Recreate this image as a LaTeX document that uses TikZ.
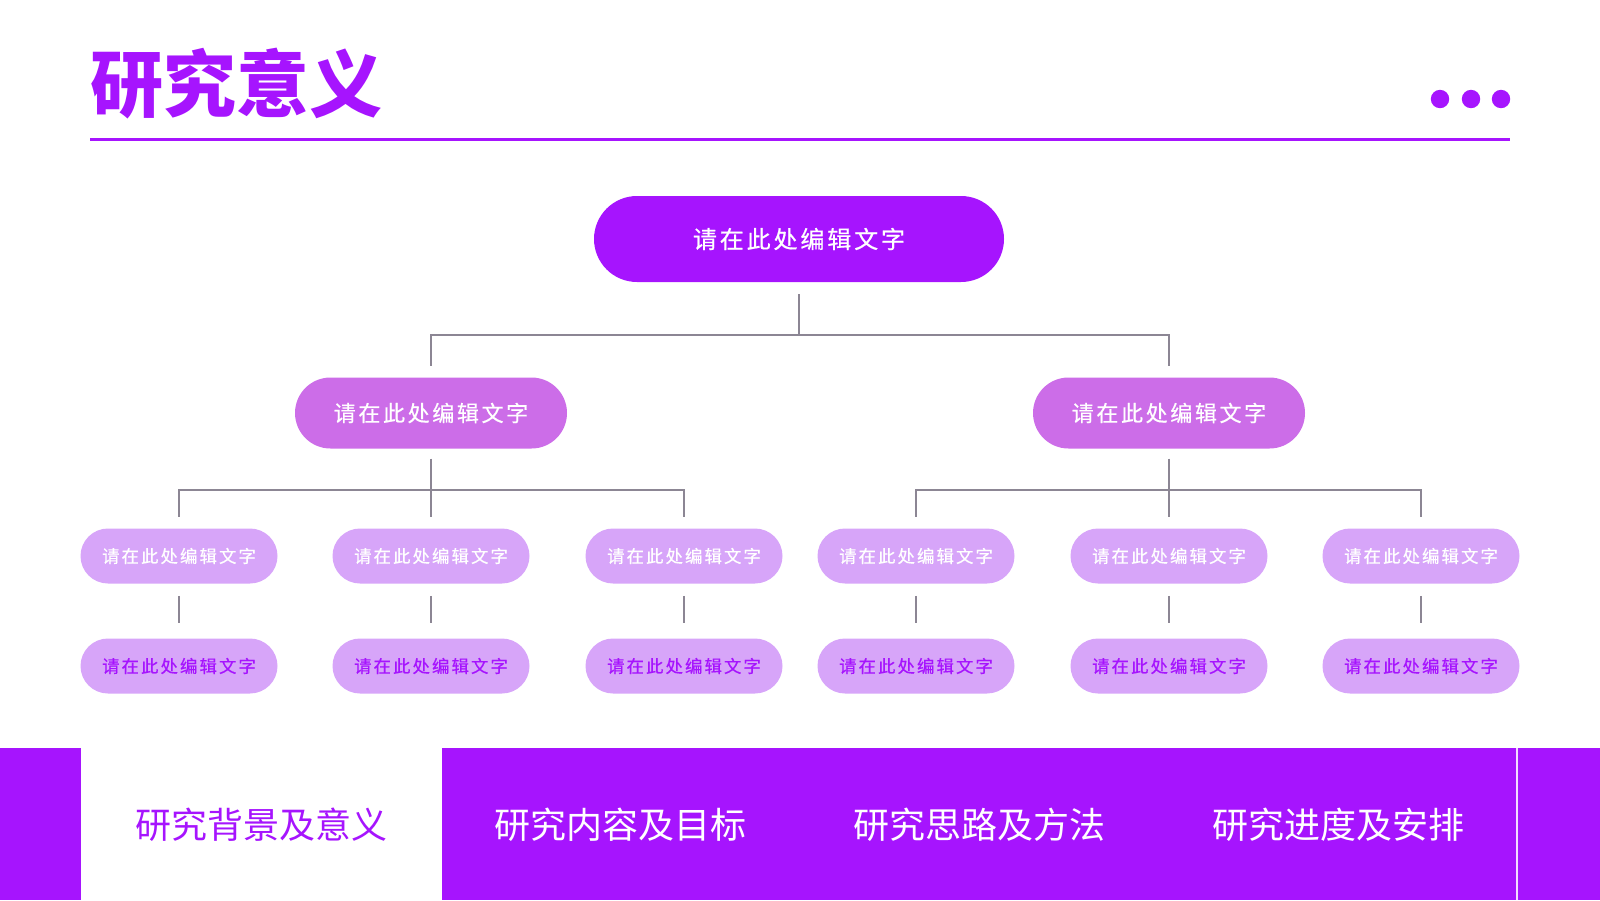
\documentclass[tikz,border=0pt]{standalone}
\usepackage{fontspec}
\setmainfont{Noto Sans CJK SC}
\newfontfamily\spaced{Noto Sans CJK SC}[LetterSpace=12, FakeBold=0.6]
\usetikzlibrary{positioning}
\definecolor{mainpurple}{HTML}{A614FE}
\definecolor{midpurple}{HTML}{CC6DE8}
\definecolor{leafpurple}{HTML}{D7A5F9}
\definecolor{linkgray}{HTML}{8C8694}
\tikzset{
topbox/.style={fill=mainpurple, text=white, minimum width=205pt, minimum height=43pt,
  rounded corners=21.5pt, inner sep=0pt, font=\spaced\fontsize{12}{14}\selectfont}, % top level
midbox/.style={fill=midpurple, text=white, minimum width=136pt, minimum height=35.5pt,
  rounded corners=17.75pt, inner sep=0pt, font=\spaced\fontsize{11}{13}\selectfont}, % second level
leafbox/.style={fill=leafpurple, text=white, minimum width=98.5pt, minimum height=27.5pt,
  rounded corners=13.75pt, inner sep=0pt, font=\spaced\fontsize{8.7}{10}\selectfont}, % third level
leafbox2/.style={leafbox, text=mainpurple}, % bottom row
link/.style={draw=linkgray, line width=1pt}, % tree lines
tab/.style={text=white, font=\fontsize{18}{21}\selectfont}, % bottom bar labels
}
\begin{document}
\begin{tikzpicture}[x=0.5pt, y=-0.5pt]
  \useasboundingbox (0,0) rectangle (1600,900);
  % header
  \node[anchor=west, inner sep=0pt, text=mainpurple, font=\fontsize{36.5}{40}\selectfont\bfseries] (title) at (90,84) {研究意义};
  \draw[mainpurple, line width=1.5pt] (90,139) -- (1510,139);
  \foreach \x in {1440,1471,1501}
    \fill[mainpurple] (\x,99) circle (4.6pt);
  % tree
  \node[topbox] (root) at (799,239) {请在此处编辑文字};
  \node[midbox] (midL) at (431,413) {请在此处编辑文字};
  \node[midbox] (midR) at (1169,413) {请在此处编辑文字};
  \foreach \i/\x in {1/179,2/431,3/684,4/916,5/1169,6/1421} {
    \node[leafbox] (a\i) at (\x,556) {请在此处编辑文字};
    \node[leafbox2] (b\i) at (\x,666) {请在此处编辑文字};
    \draw[link, shorten <=6pt, shorten >=7.5pt] (a\i.south) -- (b\i.north);
  }
  \foreach \m in {midL,midR}
    \draw[link, shorten <=6pt, shorten >=5.5pt] (root.south) -- ++(0,53) -| (\m.north);
  \foreach \i in {1,2,3}
    \draw[link, shorten <=5pt, shorten >=5.5pt] (midL.south) -- ++(0,41) -| (a\i.north);
  \foreach \i in {4,5,6}
    \draw[link, shorten <=5pt, shorten >=5.5pt] (midR.south) -- ++(0,41) -| (a\i.north);
  % bottom bar
  \fill[mainpurple] (0,748) rectangle (81,900);
  \fill[mainpurple] (442,748) rectangle (1600,900);
  \draw[white!85!mainpurple, line width=1pt] (1517,748) -- (1517,900);
  \node[tab, text=mainpurple] (tab1) at (261,825) {研究背景及意义};
  \node[tab] (tab2) at (620,825) {研究内容及目标};
  \node[tab] (tab3) at (979,825) {研究思路及方法};
  \node[tab] (tab4) at (1338,825) {研究进度及安排};
\end{tikzpicture}
\end{document}
